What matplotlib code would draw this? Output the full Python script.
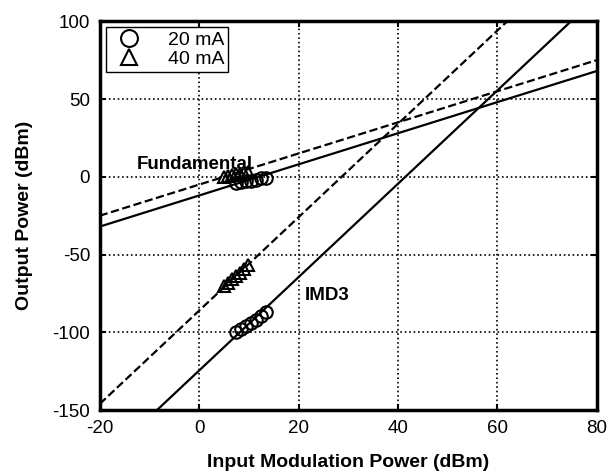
import numpy as np
import matplotlib.pyplot as plt

plt.rcParams['font.family'] = ['Liberation Sans', 'DejaVu Sans']
plt.rcParams['axes.unicode_minus'] = False

fund_20_x = [7.5, 8.5, 9.5, 10.5, 11.5, 12.5, 13.5]
fund_20_y = [-4.0, -3.5, -3.0, -2.5, -2.0, -1.0, -0.5]
fund_40_x = [5.0, 5.8, 6.6, 7.4, 8.2, 9.0, 9.8]
fund_40_y = [0.0, 0.5, 1.0, 1.5, 2.0, 2.5, 3.0]
imd_20_x = [7.5, 8.5, 9.5, 10.5, 11.5, 12.5, 13.5]
imd_20_y = [-100.0, -98.0, -96.0, -94.0, -92.0, -89.5, -87.0]
imd_40_x = [5.0, 5.8, 6.6, 7.4, 8.2, 9.0, 9.8]
imd_40_y = [-70.0, -68.0, -66.0, -64.0, -62.0, -59.5, -57.0]

## Fitted lines: slope and intercept
fund_20_fit = (1.0, -12.0)
fund_40_fit = (1.0, -5.0)
imd_20_fit = (3.0, -124.5)
imd_40_fit = (3.0, -86.0)

xline = np.array([-20, 80])

fig = plt.figure(figsize=(6.12, 4.72), dpi=100)
ax = fig.add_axes([0.163, 0.131, 0.812, 0.824])

ax.plot(xline, fund_20_fit[0]*xline + fund_20_fit[1], 'k-', lw=1.6)
ax.plot(xline, fund_40_fit[0]*xline + fund_40_fit[1], 'k--', lw=1.6)
ax.plot(xline, imd_20_fit[0]*xline + imd_20_fit[1], 'k-', lw=1.6)
ax.plot(xline, imd_40_fit[0]*xline + imd_40_fit[1], 'k--', lw=1.6)

ax.plot(fund_20_x, fund_20_y, 'o', mfc='none', mec='k', ms=9, mew=1.5, label='20 mA')
ax.plot(imd_20_x, imd_20_y, 'o', mfc='none', mec='k', ms=9, mew=1.5)
ax.plot(fund_40_x, fund_40_y, '^', mfc='none', mec='k', ms=9, mew=1.5, label='40 mA')
ax.plot(imd_40_x, imd_40_y, '^', mfc='none', mec='k', ms=9, mew=1.5)

ax.text(-12.6, 8, 'Fundamental', fontsize=13.5, fontweight='bold', va='center')
ax.text(21.2, -76, 'IMD3', fontsize=13.5, fontweight='bold', va='center')

ax.set_xlim(-20, 80)
ax.set_ylim(-150, 100)
ax.set_xticks([-20, 0, 20, 40, 60, 80])
ax.set_yticks([-150, -100, -50, 0, 50, 100])
ax.grid(True, color='k', linestyle=':', linewidth=1.2)
ax.tick_params(direction='in', length=4, width=1.5, labelsize=13.5, pad=7, top=True, right=True)
for s in ax.spines.values():
    s.set_linewidth(2.5)

ax.set_xlabel('Input Modulation Power (dBm)', fontsize=14, fontweight='bold', labelpad=12)
ax.set_ylabel('Output Power (dBm)', fontsize=14, fontweight='bold', labelpad=14)

leg = ax.legend(loc='upper left', fontsize=14, frameon=True, fancybox=False,
                edgecolor='k', framealpha=1, borderaxespad=0.3, handletextpad=1.0,
                labelspacing=0.1, borderpad=0.2, handlelength=2.0, markerscale=1.35)
leg.get_frame().set_linewidth(1.0)

plt.savefig('out.png', dpi=100)
